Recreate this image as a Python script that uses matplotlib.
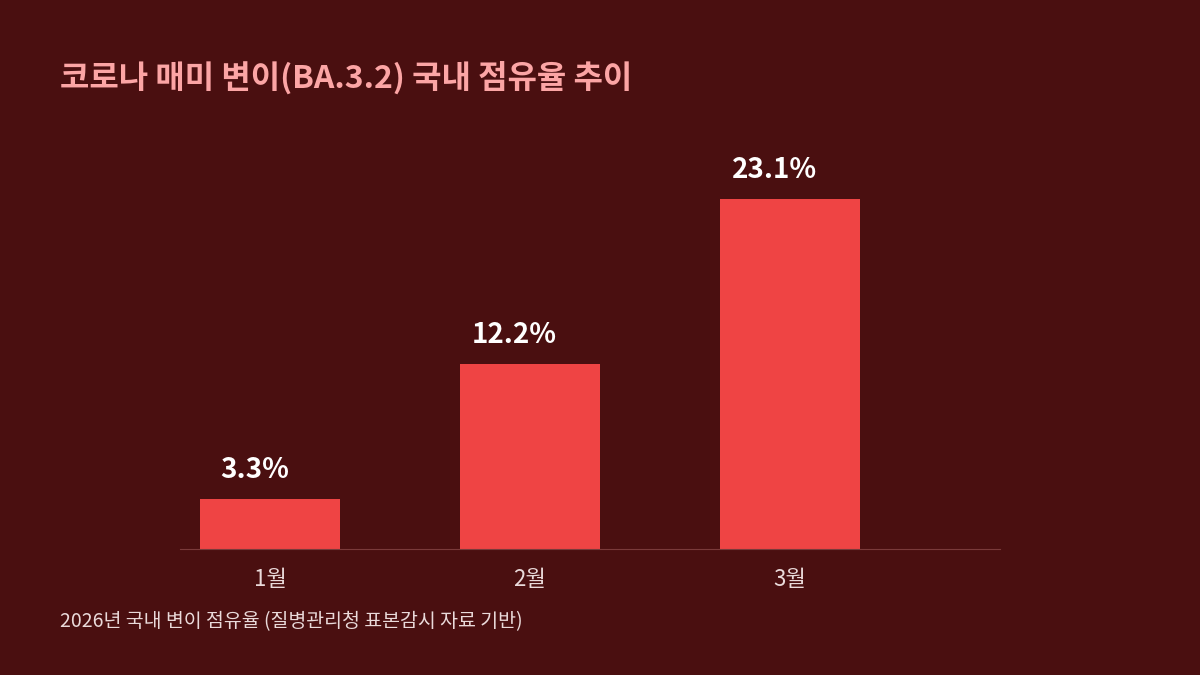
import matplotlib
matplotlib.use("Agg")
import matplotlib.pyplot as plt
from matplotlib.transforms import ScaledTranslation

plt.rcParams['font.family'] = ['Noto Sans CJK KR', 'DejaVu Sans']

categories = ["1월", "2월", "3월"]
values = [3.3, 12.2, 23.1]
labels = ["3.3%", "12.2%", "23.1%"]

bg = "#4a0f10"
fig = plt.figure(figsize=(12, 6.75), dpi=100, facecolor=bg)
ax = fig.add_axes([0.15, 0.1867, 0.6833, 0.591])
ax.set_facecolor(bg)
x = range(len(categories))
ax.bar(x, values, width=0.538, color="#ef4444")
for xi, v, l in zip(x, values, labels):
    ax.text(xi - 0.06, v + 1.0, l, ha="center", va="bottom", color="white",
            fontsize=20, fontweight="bold")
ax.set_xlim(-0.346, 2.808)
ax.set_ylim(0, 26.33)
ax.set_xticks(list(x))
ax.set_xticklabels(categories, color="#eadada", fontsize=16)
off = ScaledTranslation(-10/100, 0, fig.dpi_scale_trans)
for t in ax.get_xticklabels():
    t.set_transform(t.get_transform() + off)
ax.tick_params(axis="x", length=0, pad=14)
ax.set_yticks([])
for s in ["top", "right", "left"]:
    ax.spines[s].set_visible(False)
ax.spines["bottom"].set_color("#7a3a3a")

fig.text(60/1200, 1 - 78/675, "코로나 매미 변이(BA.3.2) 국내 점유율 추이", color="#fca5a5",
         fontsize=23, fontweight="bold", va="center", ha="left")
fig.text(60/1200, 1 - 622/675, "2026년 국내 변이 점유율 (질병관리청 표본감시 자료 기반)",
         color="#eadada", fontsize=14, va="center", ha="left")
fig.savefig("out.png", dpi=100, facecolor=bg)
